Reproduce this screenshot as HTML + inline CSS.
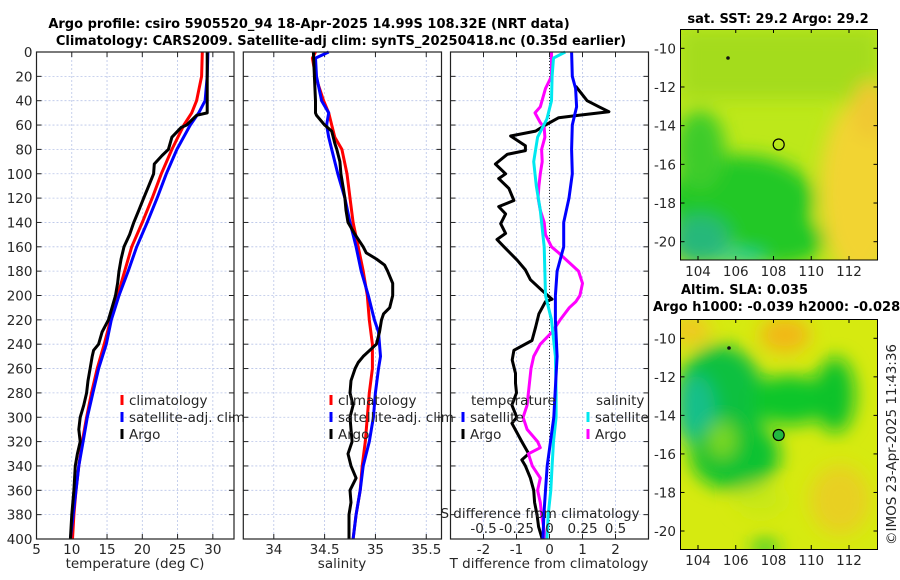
<!DOCTYPE html>
<html><head><meta charset="utf-8"><style>
html,body{margin:0;padding:0;background:#fff}
svg{display:block;font-family:"DejaVu Sans","Liberation Sans",sans-serif}
.t{font-size:13.5px;fill:#262626}
.ti{font-size:13px;font-weight:bold;fill:#000}
</style></head><body>
<svg id="fig" width="900" height="580" viewBox="0 0 900 580" xmlns="http://www.w3.org/2000/svg">
<defs>
<filter id="bl" x="-50%" y="-50%" width="200%" height="200%"><feGaussianBlur stdDeviation="9"/></filter>
<clipPath id="c1"><rect x="680.5" y="29" width="197" height="231"/></clipPath>
<clipPath id="c2"><rect x="680.5" y="319" width="197" height="230"/></clipPath>
</defs>
<text class="ti" x="309" y="28" text-anchor="middle">Argo profile: csiro 5905520_94 18-Apr-2025 14.99S 108.32E (NRT data)</text>
<text class="ti" x="341" y="45" text-anchor="middle">Climatology: CARS2009. Satellite-adj clim: synTS_20250418.nc (0.35d earlier)</text>
<g id="plots"></g>
<g id="maps">
<text class="ti" x="778" y="23" text-anchor="middle">sat. SST: 29.2 Argo: 29.2</text>
<g clip-path="url(#c1)">
<rect x="680" y="29" width="198" height="231" fill="#bde81a"/>
<g filter="url(#bl)">
<rect x="680" y="29" width="198" height="70" fill="#a4dc1c"/>
<ellipse cx="860" cy="190" rx="40" ry="90" fill="#f2d430"/>
<ellipse cx="870" cy="110" rx="18" ry="30" fill="#f0c830"/>
<ellipse cx="740" cy="200" rx="75" ry="45" fill="#22c825"/>
<ellipse cx="700" cy="150" rx="25" ry="40" fill="#3ccc2a"/>
<ellipse cx="780" cy="240" rx="45" ry="25" fill="#22c825"/>
<ellipse cx="700" cy="240" rx="30" ry="25" fill="#28b87a"/>
<ellipse cx="740" cy="258" rx="25" ry="6" fill="#18c8b0"/>
</g>
</g>
<rect x="680.5" y="29.5" width="197" height="230.5" fill="none" stroke="#000"/>
<circle cx="778.7" cy="144.5" r="5.5" fill="none" stroke="#000" stroke-width="1.2"/>
<circle cx="728" cy="58" r="1.8" fill="#111"/>
<text class="ti" x="681" y="294">Altim. SLA: 0.035</text>
<text class="ti" x="653" y="311">Argo h1000: -0.039 h2000: -0.028</text>
<g clip-path="url(#c2)">
<rect x="680" y="319" width="198" height="231" fill="#d6ea10"/>
<g filter="url(#bl)">
<ellipse cx="785" cy="335" rx="25" ry="18" fill="#f2b818"/>
<ellipse cx="690" cy="330" rx="20" ry="15" fill="#f0c820"/>
<ellipse cx="840" cy="500" rx="30" ry="35" fill="#e8d020"/>
<ellipse cx="720" cy="400" rx="45" ry="55" fill="#10c040"/>
<ellipse cx="695" cy="410" rx="20" ry="35" fill="#18bf8a"/>
<ellipse cx="790" cy="400" rx="40" ry="25" fill="#0cc62a"/>
<ellipse cx="835" cy="395" rx="20" ry="38" fill="#08c22a"/>
<ellipse cx="735" cy="455" rx="45" ry="35" fill="#10c230"/>
<ellipse cx="722" cy="440" rx="14" ry="18" fill="#7cd820"/>
<ellipse cx="760" cy="500" rx="25" ry="15" fill="#c8e818"/>
<ellipse cx="765" cy="548" rx="14" ry="8" fill="#20c830"/>
</g>
</g>
<rect x="680.5" y="319.5" width="197" height="230" fill="none" stroke="#000"/>
<circle cx="778.7" cy="435" r="5.5" fill="#22b840" stroke="#000" stroke-width="1.2"/>
<circle cx="729" cy="348" r="1.8" fill="#111"/>
<text class="t" x="0" y="0" transform="translate(896,545) rotate(-90)">©IMOS 23-Apr-2025 11:43:36</text>
</g>
</svg>
<script>
// ---------- data ----------
const depthTicks=[0,20,40,60,80,100,120,140,160,180,200,220,240,260,280,300,320,340,360,380,400];
const tempTicks=[5,10,15,20,25,30];
const salTicks=[34,34.5,35,35.5];
const tdiffTicks=[-2,-1,0,1,2];
const sdiffTickLabels=["-0.5","-0.25","0","0.25","0.5"];
const sdiffTicks=[-0.5,-0.25,0,0.25,0.5];

const climTdepth=[0,20,40,50,60,80,100,120,140,160,180,200,220,240,260,280,300,320,340,360,380,400];
const climT=[28.5,28.4,27.7,27,25.9,24.2,22.7,21.4,20,18.5,17.5,16.5,15.5,14.6,13.6,12.8,12.1,11.5,11,10.6,10.3,10.1];
const satTdepth=[0,20,40,50,60,80,100,120,140,160,180,200,220,240,260,280,300,320,340,360,380,400];
const satT=[29.3,29.2,28.9,28,26.8,24.9,23.4,22.1,20.7,19.2,18,16.7,15.6,14.9,13.8,13,12.2,11.6,11,10.6,10.2,9.8];
const argoTdepth=[0,48,50,52,60,62,70,80,85,92,100,110,120,130,140,150,160,170,180,190,200,210,220,230,240,245,250,260,270,280,290,300,310,320,330,340,350,360,380,390,400];
const argoT=[29.2,29.2,29.2,27.7,26.3,25.5,24.2,23.7,22.8,21.7,21.6,20.9,20.2,19.5,18.8,18.2,17.4,17,16.7,16.5,16.2,15.7,15.2,14.3,13.8,13.1,12.9,12.6,12.3,12.1,11.7,11.2,11,11.2,10.8,10.5,10.4,10.3,10,9.9,9.8];

const climSdepth=[0,5,20,40,50,60,70,80,100,120,140,160,180,200,220,240,260,280,300,320,340,360,380,400];
const climS=[34.41,34.38,34.41,34.49,34.54,34.57,34.6,34.67,34.72,34.75,34.78,34.83,34.88,34.92,34.94,34.97,34.97,34.94,34.92,34.9,34.87,34.85,34.81,34.78];
const satSdepth=[0,5,20,40,50,60,70,80,100,120,140,160,180,200,220,230,250,260,280,300,320,340,360,380,400];
const satS=[34.54,34.41,34.42,34.47,34.54,34.52,34.54,34.57,34.63,34.7,34.75,34.81,34.86,34.93,34.99,35.03,35.05,35.03,35,34.98,34.94,34.88,34.85,34.81,34.78];
const argoSdepth=[0,20,40,50,52,60,65,75,80,90,100,110,120,130,140,150,160,165,170,175,180,190,200,210,215,220,230,240,250,255,260,270,280,290,300,310,320,330,340,350,360,370,380,400];
const argoS=[34.39,34.4,34.41,34.41,34.42,34.5,34.57,34.6,34.62,34.65,34.66,34.68,34.7,34.71,34.73,34.8,34.88,34.91,35.01,35.09,35.12,35.17,35.17,35.14,35.08,35.06,35.04,35.01,34.88,34.83,34.8,34.76,34.75,34.78,34.75,34.76,34.77,34.73,34.76,34.81,34.75,34.76,34.74,34.74];

const dTdepth=[28,40,45,49,52,54,60,65,69,77,81,84,92,100,104,112,122,127,133,141,149,154,160,171,179,187,196,203,205,215,226,237,245,253,264,272,280,290,300,305,320,330,335,340,350,360,370,380,390,400];
const dTargo=[0.79,1.14,1.5,1.8,0.89,0.28,-0.12,-0.42,-1.18,-0.73,-0.73,-1.28,-1.64,-1.33,-1.54,-1.23,-1.08,-1.54,-1.33,-1.48,-1.33,-1.59,-1.38,-0.98,-0.73,-0.58,-0.22,0.08,-0.12,-0.32,-0.42,-0.53,-1.08,-1.13,-1.03,-1.03,-1.0,-1.14,-0.99,-1.14,-0.84,-0.63,-0.84,-0.73,-0.58,-0.48,-0.45,-0.38,-0.33,-0.22];
const dTsatDepth=[0,20,30,45,60,80,100,120,140,160,180,200,220,250,280,300,320,340,360,380,400];
const dTsat=[0.67,0.69,0.79,0.82,0.69,0.67,0.69,0.59,0.43,0.43,0.23,0.18,0.18,0.23,0.17,0.13,0.03,-0.07,-0.12,-0.17,-0.2];
const dSdepth=[0,20,30,45,50,58,62,70,80,90,100,110,120,130,140,150,160,165,170,180,190,200,205,210,220,230,240,250,260,280,290,300,310,320,325,330,340,350,360,370,380,400];
const dSargo=[0.015,0.015,-0.03,-0.07,-0.11,-0.07,-0.04,-0.035,-0.06,-0.055,-0.07,-0.08,-0.086,-0.07,-0.04,-0.03,0.015,0.07,0.12,0.22,0.25,0.23,0.2,0.15,0.08,0.02,-0.07,-0.12,-0.14,-0.16,-0.17,-0.2,-0.17,-0.09,-0.07,-0.16,-0.13,-0.07,-0.09,-0.07,-0.06,-0.03];
const dSsatDepth=[0,5,20,40,55,70,90,110,130,160,200,220,250,280,300,320,340,360,380,400];
const dSsat=[0.12,0.03,0.02,0.015,-0.02,-0.09,-0.12,-0.1,-0.07,-0.04,-0.03,0.015,0.045,0.05,0.05,0.03,0.02,0.01,-0.01,-0.02];

// ---------- drawing ----------
const NS='http://www.w3.org/2000/svg';
const root=document.getElementById('plots');
const Y0=52,Y1=539;
function yScale(d){return Y0+(d/400)*(Y1-Y0);}
function lin(d0,d1,r0,r1){return v=>r0+(v-d0)/(d1-d0)*(r1-r0);}
function mk(tag,attrs,parent){const e=document.createElementNS(NS,tag);for(const k in attrs)e.setAttribute(k,attrs[k]);(parent||root).appendChild(e);return e;}
function line(xs,ds,xf,color,name,g,w){
  const p=mk('polyline',{points:xs.map((v,i)=>xf(v).toFixed(1)+','+yScale(ds[i]).toFixed(1)).join(' '),fill:'none',stroke:color,'stroke-width':w||3,'stroke-linejoin':'round'},g);
  
  
}
function panel(x0,x1,xf,ticks,labels,name,yLabels){
  const g=mk('g',{});
  
  
  ticks.forEach(t=>{const x=xf(t);mk('line',{x1:x,x2:x,y1:Y0,y2:Y1,stroke:'#b8c4e8','stroke-width':0.8,'stroke-dasharray':'2,2'},g);});
  depthTicks.forEach(d=>{const y=yScale(d);mk('line',{x1:x0,x2:x1,y1:y,y2:y,stroke:'#b8c4e8','stroke-width':0.8,'stroke-dasharray':'2,2'},g);
    mk('line',{x1:x0,x2:x0+5,y1:y,y2:y,stroke:'#222'},g);mk('line',{x1:x1-5,x2:x1,y1:y,y2:y,stroke:'#222'},g);
    if(yLabels){const t=mk('text',{x:x0-4,y:y+5,'text-anchor':'end',class:'t'},g);t.textContent=d;
      
      }
  });
  ticks.forEach((t,i)=>{const x=xf(t);mk('line',{x1:x,x2:x,y1:Y1,y2:Y1-5,stroke:'#222'},g);mk('line',{x1:x,x2:x,y1:Y0,y2:Y0+5,stroke:'#222'},g);
    const tx=mk('text',{x:x,y:Y1+15,'text-anchor':'middle',class:'t'},g);tx.textContent=labels[i];
    
    });
  return g;
}
function frame(x0,x1,g){mk('rect',{x:x0,y:Y0,width:x1-x0,height:Y1-Y0,fill:'none',stroke:'#222','stroke-width':1.2},g);}
function txt(x,y,s,name,g,anchor){const t=mk('text',{x:x,y:y,class:'t','text-anchor':anchor||'start'},g);t.textContent=s;
  
  return t;}
function legMark(x,y,c,g){mk('line',{x1:x,x2:x,y1:y-10,y2:y,stroke:c,'stroke-width':3},g);}

// Panel 1 temperature
const xT=lin(5,33,36.5,234);
const g1=panel(36.5,234,xT,tempTicks,tempTicks.map(String),'temperature-panel',true);
line(climT,climTdepth,xT,'#ff0000','temp-climatology-line',g1);
line(satT,satTdepth,xT,'#0000ff','temp-satellite-line',g1);
line(argoT,argoTdepth,xT,'#000','temp-argo-line',g1);
frame(36.5,234,g1);
txt(135,568,'temperature (deg C)','x-axis-title-temperature',g1,'middle');
legMark(122,405,'#f00',g1);txt(129,405,'climatology','legend-climatology',g1);
legMark(122,422,'#00f',g1);txt(129,422,'satellite-adj. clim','legend-satellite',g1);
legMark(122,439,'#000',g1);txt(129,439,'Argo','legend-argo',g1);

// Panel 2 salinity
const xS=lin(33.7,35.65,243.3,441.5);
const g2=panel(243.3,441.5,xS,salTicks,salTicks.map(String),'salinity-panel',false);
line(climS,climSdepth,xS,'#ff0000','sal-climatology-line',g2);
line(satS,satSdepth,xS,'#0000ff','sal-satellite-line',g2);
line(argoS,argoSdepth,xS,'#000','sal-argo-line',g2);
frame(243.3,441.5,g2);
txt(342,568,'salinity','x-axis-title-salinity',g2,'middle');
legMark(331,405,'#f00',g2);txt(338,405,'climatology','legend-climatology-s',g2);
legMark(331,422,'#00f',g2);txt(338,422,'satellite-adj. clim','legend-satellite-s',g2);
legMark(331,439,'#000',g2);txt(338,439,'Argo','legend-argo-s',g2);

// Panel 3 differences
const xD=lin(-3,3,450.5,648.5);
const xSd=lin(-0.75,0.75,450.5,648.5);
const g3=panel(450.5,648.5,xD,tdiffTicks,tdiffTicks.map(String),'difference-panel',false);
mk('line',{x1:xD(0),x2:xD(0),y1:Y0,y2:Y1,stroke:'#333','stroke-width':1,'stroke-dasharray':'1,2'},g3);
line(dTargo,dTdepth,xD,'#000','tdiff-argo-line',g3);
line(dSargo,dSdepth,xSd,'#ff00ff','sdiff-argo-line',g3);
line(dSsat,dSsatDepth,xSd,'#00e8f0','sdiff-satellite-line',g3);
line(dTsat,dTsatDepth,xD,'#0000ff','tdiff-satellite-line',g3);
frame(450.5,648.5,g3);
txt(549,568,'T difference from climatology','x-axis-title-tdiff',g3,'middle');
txt(540,518,'S difference from climatology','s-axis-title',g3,'middle');
sdiffTicks.forEach((s,i)=>{txt(xSd(s),533,sdiffTickLabels[i],'s-tick-label',g3,'middle');});
txt(471,405,'temperature','legend-title-temperature',g3);
legMark(463,422,'#00f',g3);txt(470,422,'satellite','legend-tdiff-satellite',g3);
legMark(463,439,'#000',g3);txt(470,439,'Argo','legend-tdiff-argo',g3);
txt(596,405,'salinity','legend-title-salinity',g3);
legMark(588,422,'#00e8f0',g3);txt(595,422,'satellite','legend-sdiff-satellite',g3);
legMark(588,439,'#f0f',g3);txt(595,439,'Argo','legend-sdiff-argo',g3);

// map axes
const maps=document.getElementById('maps');
const lonTicks=[104,106,108,110,112];
const latTicks=[-10,-12,-14,-16,-18,-20];
[[29,260,48.3,241.7],[319,549,338.3,531]].forEach(([top,bot,y10,y20])=>{
  const lon=lin(104,112,698,849), lat=lin(-10,-20,y10,y20);
  lonTicks.forEach(l=>{const x=lon(l);mk('line',{x1:x,x2:x,y1:bot,y2:bot-4,stroke:'#000'},maps);mk('line',{x1:x,x2:x,y1:top,y2:top+4,stroke:'#000'},maps);
    txt(x,bot+16,String(l),'lon-tick-label',maps,'middle');});
  latTicks.forEach(l=>{const y=lat(l);mk('line',{x1:680.5,x2:684.5,y1:y,y2:y,stroke:'#000'},maps);mk('line',{x1:877.5,x2:873.5,y1:y,y2:y,stroke:'#000'},maps);
    txt(676,y+5,String(l),'lat-tick-label',maps,'end');});
});
</script>
</body></html>
